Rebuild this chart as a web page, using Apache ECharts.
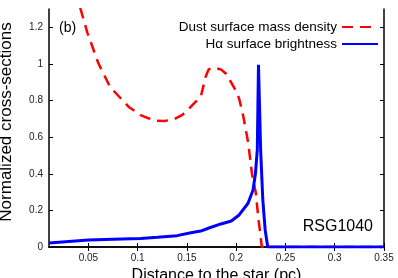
<!DOCTYPE html>
<html><head><meta charset="utf-8">
<script src="https://cdn.jsdelivr.net/npm/echarts@6/dist/echarts.min.js"></script>
<style>html,body{margin:0;padding:0;background:#fff}#c{width:398px;height:278px}</style>
</head><body><div id="c"></div>
<script>
var xTicks = [0.05, 0.1, 0.15, 0.2, 0.25, 0.3, 0.35];
var yTicks = [0, 0.2, 0.4, 0.6, 0.8, 1, 1.2];
var dustX = [0.035, 0.042, 0.049, 0.06, 0.072, 0.091, 0.103, 0.111, 0.118, 0.127, 0.137, 0.145, 0.152, 0.159, 0.164, 0.169, 0.172, 0.177, 0.1845, 0.19, 0.2, 0.203, 0.207, 0.212, 0.216, 0.22, 0.2226, 0.2236, 0.226, 0.35];
var dustY = [1.5, 1.3, 1.17, 1.005, 0.874, 0.765, 0.72, 0.703, 0.69, 0.688, 0.698, 0.72, 0.755, 0.794, 0.82, 0.93, 0.97, 0.98, 0.97, 0.945, 0.85, 0.81, 0.72, 0.575, 0.40, 0.293, 0.148, 0.11, 0.0, 0.0];
var haX = [0.01, 0.03, 0.05, 0.075, 0.103, 0.12, 0.14, 0.154, 0.164, 0.173, 0.1845, 0.195, 0.203, 0.212, 0.217, 0.2195, 0.2214, 0.2226, 0.2248, 0.227, 0.2294, 0.232, 0.35];
var haY = [0.022, 0.03, 0.038, 0.043, 0.047, 0.053, 0.062, 0.078, 0.087, 0.105, 0.126, 0.142, 0.175, 0.239, 0.31, 0.4, 0.53, 0.995, 0.53, 0.257, 0.093, 0.0, 0.0];
var dustName = 'Dust surface mass density';
var haName = 'H\u03b1 surface brightness';

function pairs(xs, ys){ return xs.map(function(x,i){ return [x, ys[i]]; }); }
var font = 'Liberation Sans, Arial, Helvetica, sans-serif';
var chart = echarts.init(document.getElementById('c'));
var axLine = {show:true, lineStyle:{color:'#000', width:1.5}};
chart.setOption({
  animation:false,
  grid:{left:49, right:14, top:9, bottom:31, containLabel:false, outerBoundsMode:'none'},
  legend:{
    orient:'vertical', right:14, top:14, align:'right', itemWidth:36, itemHeight:10, itemGap:1,
    textStyle:{fontFamily:font, fontSize:13.5, color:'#000', lineHeight:16},
    itemStyle:{opacity:0, borderWidth:0},
    data:[dustName, haName]
  },
  graphic:[
    {type:'text', left:59, top:21, style:{text:'(b)', font:'14px '+font, fill:'#000'}},
    {type:'text', right:25, top:219, style:{text:'RSG1040', font:'16px '+font, fill:'#000'}}
  ],
  xAxis:[
    {type:'value', min:0.01, max:0.35, position:'bottom', axisLine:axLine,
     axisTick:{show:true, inside:true, length:4, customValues:xTicks, lineStyle:{color:'#000'}},
     axisLabel:{fontFamily:font, fontSize:10, color:'#222', margin:6, customValues:xTicks, formatter:function(v){return String(+v.toFixed(2));}},
     splitLine:{show:false},
     name:'Distance to the star (pc)', nameLocation:'middle', nameGap:17,
     nameTextStyle:{fontFamily:font, fontSize:16, color:'#000'}},
    {type:'value', min:0.01, max:0.35, position:'top', axisLine:axLine,
     axisTick:{show:true, inside:true, length:4, customValues:xTicks, lineStyle:{color:'#000'}},
     axisLabel:{show:false}, splitLine:{show:false}}
  ],
  yAxis:[
    {type:'value', min:0, max:1.3, position:'left', axisLine:axLine,
     axisTick:{show:true, inside:true, length:4, customValues:yTicks, lineStyle:{color:'#000'}},
     axisLabel:{fontFamily:font, fontSize:10, color:'#222', margin:6, customValues:yTicks, formatter:function(v){return String(+v.toFixed(1));}},
     splitLine:{show:false},
     name:'Normalized cross-sections', nameLocation:'middle', nameGap:34,
     nameTextStyle:{fontFamily:font, fontSize:17, color:'#000', padding:[0,0,0,12]}},
    {type:'value', min:0, max:1.3, position:'right', axisLine:axLine,
     axisTick:{show:true, inside:true, length:4, customValues:yTicks, lineStyle:{color:'#000'}},
     axisLabel:{show:false}, splitLine:{show:false}}
  ],
  series:[
    {name:dustName, type:'line', data:pairs(dustX, dustY), showSymbol:false, symbol:'none', clip:true,
     lineStyle:{color:'#ff0000', width:2.5, type:[11,7]}, itemStyle:{color:'#ff0000'}, z:2},
    {name:haName, type:'line', data:pairs(haX, haY), showSymbol:false, symbol:'none', clip:true,
     lineStyle:{color:'#0000ff', width:3}, itemStyle:{color:'#0000ff'}, z:3}
  ]
});
</script></body></html>
